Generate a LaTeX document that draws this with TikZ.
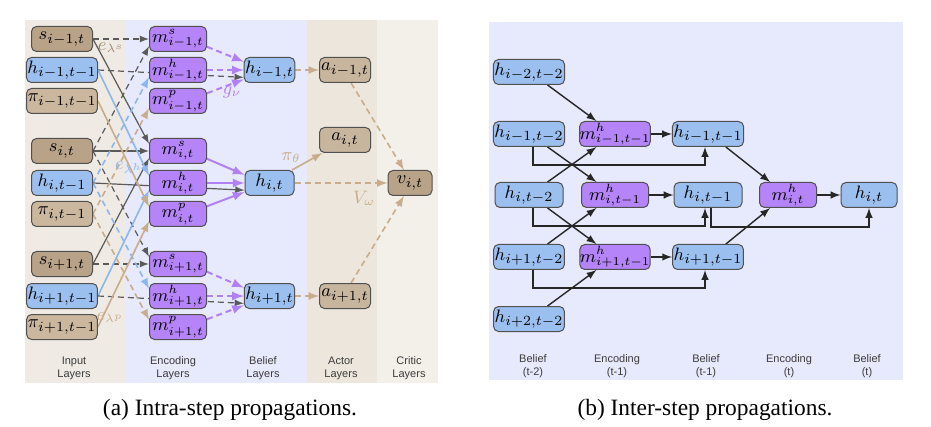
\documentclass[tikz,border=0pt]{standalone}
\usepackage{amsmath}
\usepackage{amssymb}
\usepackage{fontspec}
\setmainfont{Liberation Serif}
\setsansfont{Liberation Sans}
\usepackage{tikz}
\usetikzlibrary{arrows,shapes}

\definecolor{lavbg}{RGB}{231,233,252}
\definecolor{inbg}{RGB}{239,235,228}
\definecolor{actbg}{RGB}{236,230,220}
\definecolor{critbg}{RGB}{243,239,233}
\definecolor{bluefill}{RGB}{155,192,240}
\definecolor{purpfill}{RGB}{180,132,248}
\definecolor{sfill}{RGB}{184,162,136}
\definecolor{pfill}{RGB}{202,183,158}
\definecolor{afill}{RGB}{200,181,158}
\definecolor{border}{RGB}{80,80,80}
\definecolor{darkline}{RGB}{90,90,90}
\definecolor{blueline}{RGB}{140,182,238}
\definecolor{tanline}{RGB}{200,172,140}
\definecolor{purpline}{RGB}{178,128,245}
\definecolor{lablgray}{RGB}{60,60,60}

\pgfdeclarelayer{bg}
\pgfdeclarelayer{edges}
\pgfsetlayers{bg,edges,main}

\begin{document}
\begin{tikzpicture}
[x=0.5pt,y=-0.5pt,>=latex]
\tikzset{
	box/.style = {rectangle, rounded corners=2.5pt, draw=border, line width=0.5pt, inner sep=0.5pt, minimum height=12.5pt, font=\fontsize{9.5}{10}\selectfont},
	sbox/.style = {box, fill=sfill, minimum width=30.5pt},
	hin/.style = {box, fill=bluefill, minimum width=30.5pt},
	pin/.style = {box, fill=pfill, minimum width=30.5pt},
	mbox/.style = {box, fill=purpfill, minimum width=28.5pt, inner sep=0pt, font=\fontsize{9}{9}\selectfont},
	hbel/.style = {box, fill=bluefill, minimum width=24.5pt},
	abox/.style = {box, fill=afill, minimum width=25.5pt},
	vbox/.style = {box, fill=sfill, minimum width=22pt},
	rbel/.style = {box, fill=bluefill, minimum width=34pt},
	renc/.style = {box, fill=purpfill, minimum width=33.5pt, inner sep=0pt, font=\fontsize{9}{9}\selectfont},
	dk/.style = {->, draw=darkline, line width=0.6pt},
	bl/.style = {->, draw=blueline, line width=0.8pt},
	tn/.style = {->, draw=tanline, line width=0.8pt},
	pu/.style = {->, draw=purpline, line width=1pt},
	bk/.style = {->, draw=black!85, line width=0.7pt},
	dsh/.style = {dash pattern=on 3pt off 2pt},
	lyr/.style = {align=center, text=lablgray, font=\sffamily\fontsize{5.5}{6.5}\selectfont},
	elab/.style = {inner sep=0pt, font=\fontsize{9}{10}\selectfont},
	capt/.style = {font=\fontsize{11.7}{14}\selectfont}
}

\useasboundingbox (0,0) rectangle (931,427);
\begin{pgfonlayer}{bg}
\fill[white] (0,0) rectangle (931,427);
\fill[inbg] (25,20) rectangle (125,383);
\fill[lavbg] (125,20) rectangle (307,383);
\fill[actbg] (307,20) rectangle (377,383);
\fill[critbg] (377,20) rectangle (438,383);
\fill[lavbg] (489,22) rectangle (903,380);
\end{pgfonlayer}

\node(s0) [sbox] at (62,39) {$s_{i-1,t}$};
\node(ho0) [hin] at (62,70) {$h_{i-1,t-1}$};
\node(p0) [pin] at (62,101) {$\pi_{i-1,t-1}$};
\node(s1) [sbox] at (62,151) {$s_{i,t}$};
\node(ho1) [hin] at (62,183) {$h_{i,t-1}$};
\node(p1) [pin] at (62,214) {$\pi_{i,t-1}$};
\node(s2) [sbox] at (62,264) {$s_{i+1,t}$};
\node(ho2) [hin] at (62,296) {$h_{i+1,t-1}$};
\node(p2) [pin] at (62,327) {$\pi_{i+1,t-1}$};

\node(ms0) [mbox] at (178,39) {$m^s_{i-1,t}$};
\node(mh0) [mbox] at (178,70) {$m^h_{i-1,t}$};
\node(mp0) [mbox] at (178,101) {$m^p_{i-1,t}$};
\node(ms1) [mbox] at (178,151) {$m^s_{i,t}$};
\node(mh1) [mbox] at (178,183) {$m^h_{i,t}$};
\node(mp1) [mbox] at (178,214) {$m^p_{i,t}$};
\node(ms2) [mbox] at (178,264) {$m^s_{i+1,t}$};
\node(mh2) [mbox] at (178,296) {$m^h_{i+1,t}$};
\node(mp2) [mbox] at (178,327) {$m^p_{i+1,t}$};

\node(h0) [hbel] at (269.5,70) {$h_{i-1,t}$};
\node(h1) [hbel] at (269.5,183) {$h_{i,t}$};
\node(h2) [hbel] at (269.5,296) {$h_{i+1,t}$};

\node(a0) [abox] at (345,70) {$a_{i-1,t}$};
\node(a1) [abox] at (345,140) {$a_{i,t}$};
\node(a2) [abox] at (345,296) {$a_{i+1,t}$};
\node(v1) [vbox] at (410,183) {$v_{i,t}$};

\begin{pgfonlayer}{edges}
\draw [dk, dsh] (s0.east) -- (ms0.west);
\draw [dk] (s0.east) -- (ms1.166);
\draw [dk, dsh] (s1.east) -- (ms0.194);
\draw [dk] (s1.east) -- (ms1.west);
\draw [dk, dsh] (s1.east) -- (ms2.166);
\draw [dk] (s2.east) -- (ms1.194);
\draw [dk, dsh] (s2.east) -- (ms2.west);

\draw [dk, dsh] (ho0.east) -- (h0.196);
\draw [bl] (ho0.east) -- (mh1.166);
\draw [bl, dsh] (ho1.east) -- (mh0.194);
\draw [dk] (ho1.east) -- (h1.196);
\draw [bl, dsh] (ho1.east) -- (mh2.166);
\draw [bl] (ho2.east) -- (mh1.194);
\draw [dk, dsh] (ho2.east) -- (h2.196);

\draw [tn] (p0.east) -- (mp1.166);
\draw [tn, dsh] (p1.east) -- (mp0.194);
\draw [tn, dsh] (p1.east) -- (mp2.166);
\draw [tn] (p2.east) -- (mp1.194);

\draw [pu, dsh] (ms0.-15) -- (h0.162);
\draw [pu, dsh] (mh0.east) -- (h0.west);
\draw [pu, dsh] (mp0.15) -- (h0.200);
\draw [pu] (ms1.-15) -- (h1.162);
\draw [pu] (mh1.east) -- (h1.west);
\draw [pu] (mp1.15) -- (h1.200);
\draw [pu, dsh] (ms2.-15) -- (h2.162);
\draw [pu, dsh] (mh2.east) -- (h2.west);
\draw [pu, dsh] (mp2.15) -- (h2.200);

\draw [tn, dsh] (h0.east) -- (a0.west);
\draw [tn] (h1.30) -- (a1.210);
\draw [tn, dsh] (h2.east) -- (a2.west);
\draw [tn, dsh] (h1.east) -- (v1.west);
\draw [tn, dsh] (a0.-65) -- (v1.115);
\draw [tn, dsh] (a2.65) -- (v1.-115);
\end{pgfonlayer}

\node(els) [elab, text=tanline!80!black] at (111,48) {$e_{\lambda^s}$};
\node(elh) [elab, text=blueline] at (129,168) {$e_{\lambda^h}$};
\node(elp) [elab, text=tanline] at (110,318) {$e_{\lambda^p}$};
\node(gnu) [elab, text=purpline] at (232,92) {$g_\nu$};
\node(pth) [elab, text=tanline] at (291,158) {$\pi_\theta$};
\node(vom) [elab, text=tanline] at (364,198) {$V_\omega$};

\node(lin) [lyr] at (74,368) {Input\\Layers};
\node(lenc) [lyr] at (173,368) {Encoding\\Layers};
\node(lbel) [lyr] at (263,368) {Belief\\Layers};
\node(lact) [lyr] at (341,368) {Actor\\Layers};
\node(lcrit) [lyr] at (409,368) {Critic\\Layers};

\node(b0) [rbel] at (529,72) {$h_{i-2,t-2}$};
\node(b1) [rbel] at (529,134) {$h_{i-1,t-2}$};
\node(b2) [rbel] at (529,195) {$h_{i,t-2}$};
\node(b3) [rbel] at (529,257) {$h_{i+1,t-2}$};
\node(b4) [rbel] at (529,319) {$h_{i+2,t-2}$};

\node(e0) [renc] at (615,134) {$m^h_{i-1,t-1}$};
\node(e1) [renc] at (615,195) {$m^h_{i,t-1}$};
\node(e2) [renc] at (615,257) {$m^h_{i+1,t-1}$};

\node(c0) [rbel] at (708,134) {$h_{i-1,t-1}$};
\node(c1) [rbel] at (708,195) {$h_{i,t-1}$};
\node(c2) [rbel] at (708,257) {$h_{i+1,t-1}$};

\node(e3) [mbox] at (788,195) {$m^h_{i,t}$};
\node(d) [hbel, minimum width=28pt] at (869,195) {$h_{i,t}$};

\begin{pgfonlayer}{edges}
\draw [bk] (b0.-35) -- (e0.145);
\draw [bk] (b1.-35) -- (e1.145);
\draw [bk] (b2.35) -- (e0.-145);
\draw [bk] (b2.-35) -- (e2.145);
\draw [bk] (b3.35) -- (e1.-145);
\draw [bk] (b4.35) -- (e2.-145);
\draw [bk] (e0.east) -- (c0.west);
\draw [bk] (e1.east) -- (c1.west);
\draw [bk] (e2.east) -- (c2.west);
\draw [bk] ([xshift=2pt]b1.south) -- ++(0,18) -| ([xshift=-1.5pt]c0.south);
\draw [bk] ([xshift=2pt]b2.south) -- ++(0,18) -| ([xshift=-1.5pt]c1.south);
\draw [bk] ([xshift=2pt]b3.south) -- ++(0,18) -| ([xshift=-1.5pt]c2.south);
\draw [bk] (c0.-36) -- (e3.144);
\draw [bk] (c2.36) -- (e3.-144);
\draw [bk] (e3.east) -- (d.west);
\draw [bk] ([xshift=1.5pt]c1.south) -- ++(0,19) -| (d.south);
\end{pgfonlayer}

\node(lb2) [lyr] at (533,366) {Belief\\(t-2)};
\node(le1) [lyr] at (617,366) {Encoding\\(t-1)};
\node(lb1) [lyr] at (706,366) {Belief\\(t-1)};
\node(le0) [lyr] at (789,366) {Encoding\\(t)};
\node(lb0) [lyr] at (867,366) {Belief\\(t)};

\node(capa) [capt] at (230,410) {(a) Intra-step propagations.};
\node(capb) [capt] at (705,410) {(b) Inter-step propagations.};
\end{tikzpicture}
\end{document}
